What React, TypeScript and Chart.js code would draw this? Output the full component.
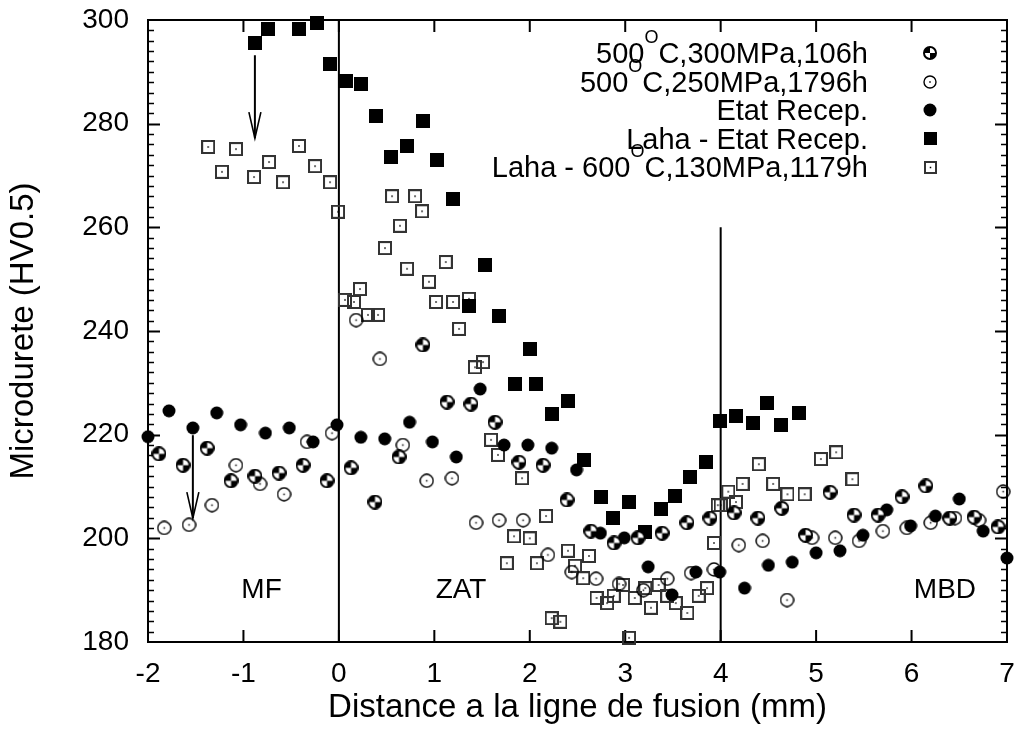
import React, { useEffect, useRef } from 'react';
import { Chart, registerables } from 'chart.js';
Chart.register(...registerables);

const FONT = '"Liberation Sans", Arial, Helvetica, sans-serif';

// ---- Data (mm, HV0.5) ----
const s300X = [-1.885, -1.633, -1.38, -1.13, -0.879, -0.627, -0.376, -0.124, 0.127, 0.378, 0.63, 0.88, 1.133, 1.384, 1.636, 1.887, 2.139, 2.39, 2.64, 2.883, 3.134, 3.386, 3.647, 3.888, 4.14, 4.39, 4.64, 4.89, 5.146, 5.397, 5.65, 5.9, 6.15, 6.4, 6.655, 6.906];
const s300Y = [216.3, 214.1, 217.4, 211.1, 212, 212.6, 214.1, 211.1, 213.6, 207, 215.7, 237.3, 226.3, 225.9, 222.4, 214.7, 214.1, 207.4, 201.4, 199.1, 200.1, 201, 203, 203.9, 204.9, 203.9, 205.8, 200.6, 208.9, 204.5, 204.5, 208, 210.1, 203.9, 204.1, 202.2];

const s250X = [-1.83, -1.57, -1.33, -1.078, -0.826, -0.575, -0.334, -0.072, 0.18, 0.43, 0.67, 0.92, 1.185, 1.437, 1.678, 1.93, 2.19, 2.44, 2.694, 2.935, 3.19, 3.44, 3.69, 3.93, 4.19, 4.44, 4.695, 4.957, 5.2, 5.45, 5.7, 5.95, 6.2, 6.455, 6.707, 6.96];
const s250Y = [202, 202.6, 206.4, 214.1, 210.5, 208.5, 218.6, 220.3, 242.1, 234.6, 218, 211.1, 211.6, 203, 203.5, 203.5, 196.8, 193.5, 192.2, 191.2, 190, 192.2, 193.3, 194, 198.7, 199.5, 188.1, 200.1, 200.1, 199.5, 201.4, 202, 203, 203.9, 203.5, 209];

const recX = [-2.0, -1.78, -1.53, -1.28, -1.03, -0.77, -0.52, -0.27, -0.02, 0.23, 0.48, 0.74, 0.98, 1.23, 1.48, 1.73, 1.98, 2.23, 2.49, 2.74, 2.99, 3.24, 3.49, 3.74, 3.99, 4.25, 4.5, 4.75, 5.0, 5.25, 5.49, 5.74, 5.99, 6.25, 6.5, 6.75, 7.0];
const recY = [219.6, 224.6, 221.3, 224.2, 221.9, 220.3, 221.3, 218.6, 221.9, 219.5, 219.2, 222.4, 218.6, 215.7, 228.8, 218, 218, 217.4, 213.2, 201, 200.1, 194.5, 189.1, 193.5, 193.5, 190.4, 194.8, 195.4, 197.2, 197.6, 200.6, 205.5, 202.4, 204.3, 207.6, 201.4, 196.2];

const lahaRecX = [-0.88, -0.74, -0.42, -0.23, -0.09, 0.07, 0.23, 0.39, 0.55, 0.71, 0.88, 1.03, 1.2, 1.36, 1.53, 1.68, 1.84, 2.0, 2.07, 2.23, 2.4, 2.57, 2.75, 2.87, 3.04, 3.21, 3.37, 3.52, 3.68, 3.85, 3.99, 4.16, 4.34, 4.49, 4.63, 4.82];
const lahaRecY = [295.6, 298.2, 298.3, 299.4, 291.5, 288.3, 287.6, 281.4, 273.6, 275.6, 280.5, 272.9, 265.4, 244.8, 252.7, 242.9, 229.8, 236.5, 229.8, 224.0, 226.5, 215.2, 207.9, 204.0, 207.0, 201.2, 205.6, 208.1, 211.9, 214.8, 222.6, 223.6, 222.3, 226.1, 221.9, 224.2];

const laha600X = [-1.37, -1.225, -1.078, -0.889, -0.732, -0.585, -0.418, -0.25, -0.093, -0.009, 0.064, 0.158, 0.221, 0.305, 0.41, 0.483, 0.557, 0.64, 0.714, 0.798, 0.871, 0.944, 1.018, 1.12, 1.196, 1.259, 1.363, 1.426, 1.51, 1.594, 1.667, 1.76, 1.835, 1.919, 2.0, 2.075, 2.17, 2.23, 2.32, 2.4, 2.474, 2.56, 2.62, 2.7, 2.81, 2.88, 2.977, 3.04, 3.1, 3.21, 3.27, 3.35, 3.44, 3.53, 3.65, 3.77, 3.857, 3.93, 3.97, 4.0, 4.08, 4.16, 4.23, 4.4, 4.55, 4.7, 4.88, 5.05, 5.21, 5.38];
const laha600Y = [275.5, 270.7, 275.1, 269.7, 272.6, 268.7, 275.7, 271.8, 268.7, 263.0, 246, 245.6, 248.1, 243.1, 243.1, 256, 266.0, 260.3, 252, 266.0, 263.1, 249.5, 245.6, 253.3, 245.6, 240.4, 246.2, 233, 234, 219, 216.1, 195.2, 200.4, 211.6, 200, 195.2, 204.3, 184.6, 183.9, 197.6, 194.7, 192.3, 196.6, 188.5, 187.5, 188.9, 191, 180.8, 188.5, 190.4, 186.6, 191, 188.9, 187.5, 185.6, 188.9, 190.4, 199.1, 206.4, 206.4, 209, 207, 210.5, 214.3, 210.5, 208.5, 208.5, 215.3, 216.6, 211.4];

const seriesNames = [
  ['500', 'O', 'C,300MPa,106h'],
  ['500', 'O', 'C,250MPa,1796h'],
  ['Etat Recep.', '', ''],
  ['Laha - Etat Recep.', '', ''],
  ['Laha - 600', 'O', 'C,130MPa,1179h'],
];

const zoneLabels = ['MF', 'ZAT', 'MBD'];
const zoneX = [-0.81, 1.28, 6.35];
const zoneY = [190, 190, 190];

const xTitle = 'Distance a la ligne de fusion (mm)';
const yTitle = 'Microdurete (HV0.5)';

// ---- Markers ----
function mk(size: number, draw: (c: CanvasRenderingContext2D, s: number) => void) {
  const c = document.createElement('canvas');
  c.width = size; c.height = size;
  const ctx = c.getContext('2d')!;
  draw(ctx, size);
  return c;
}
function quartered(size: number) {
  return mk(size, (c, s) => {
    const r = s / 2 - 1, m = s / 2;
    c.beginPath(); c.arc(m, m, r, 0, Math.PI * 2); c.fillStyle = '#fff'; c.fill();
    c.fillStyle = '#000';
    c.beginPath(); c.moveTo(m, m); c.arc(m, m, r, Math.PI, Math.PI * 1.5); c.closePath(); c.fill();
    c.beginPath(); c.moveTo(m, m); c.arc(m, m, r, 0, Math.PI * 0.5); c.closePath(); c.fill();
    c.beginPath(); c.arc(m, m, r, 0, Math.PI * 2); c.lineWidth = 2; c.strokeStyle = '#000'; c.stroke();
  });
}
function openCircle(size: number) {
  return mk(size, (c, s) => {
    const m = s / 2;
    c.beginPath(); c.arc(m, m, s / 2 - 1, 0, Math.PI * 2); c.lineWidth = 1.4; c.strokeStyle = '#000'; c.stroke();
    c.fillStyle = '#000'; c.fillRect(m - 0.75, m - 0.75, 1.5, 1.5);
  });
}
function filledCircle(size: number) {
  return mk(size, (c, s) => {
    const m = s / 2;
    c.beginPath(); c.arc(m, m, s / 2 - 0.5, 0, Math.PI * 2); c.fillStyle = '#000'; c.fill();
  });
}
function filledSquare(size: number) {
  return mk(size, (c, s) => { c.fillStyle = '#000'; c.fillRect(0, 0, s, s); });
}
function openSquare(size: number) {
  return mk(size, (c, s) => {
    c.lineWidth = 2; c.strokeStyle = '#333'; c.strokeRect(1, 1, s - 2, s - 2);
    c.fillStyle = '#000'; c.fillRect(s / 2 - 0.75, s / 2 - 0.75, 1.5, 1.5);
  });
}

function pts(xs: number[], ys: number[]) {
  return xs.map((x, i) => ({ x, y: ys[i] }));
}

export default function App() {
  const ref = useRef<HTMLCanvasElement>(null);
  useEffect(() => {
    const markers = [quartered(15), openCircle(15), filledCircle(14), filledSquare(14), openSquare(14)];
    const legMarkers = [quartered(14), openCircle(14), filledCircle(14), filledSquare(13), openSquare(13)];
    const decor = {
      id: 'decor',
      beforeDatasetsDraw(chart: any) {
        const { ctx, chartArea: a, scales: { x, y } } = chart;
        ctx.save();
        ctx.strokeStyle = '#000';
        ctx.lineWidth = 2;
        ctx.strokeRect(a.left, a.top, a.right - a.left, a.bottom - a.top);
        for (let v = 182; v < 300; v += 2) {
          const py = Math.round(y.getPixelForValue(v)) + 0.5;
          const major = v % 20 === 0;
          const len = major ? 12 : 6;
          ctx.lineWidth = major ? 2 : 1.5;
          ctx.beginPath();
          ctx.moveTo(a.left, py); ctx.lineTo(a.left + len, py);
          ctx.moveTo(a.right, py); ctx.lineTo(a.right - len, py);
          ctx.stroke();
        }
        ctx.lineWidth = 2;
        for (let v = -1; v <= 6; v++) {
          const px = x.getPixelForValue(v);
          ctx.beginPath();
          ctx.moveTo(px, a.bottom); ctx.lineTo(px, a.bottom - 12);
          ctx.moveTo(px, a.top); ctx.lineTo(px, a.top + 12);
          ctx.stroke();
        }
        // zone separators
        ctx.lineWidth = 2;
        ctx.beginPath();
        ctx.moveTo(x.getPixelForValue(0), y.getPixelForValue(300));
        ctx.lineTo(x.getPixelForValue(0), y.getPixelForValue(180));
        ctx.moveTo(x.getPixelForValue(4), y.getPixelForValue(260));
        ctx.lineTo(x.getPixelForValue(4), y.getPixelForValue(180));
        ctx.stroke();
        // arrows
        const arrow = (xv: number, y0: number, y1: number) => {
          const px = x.getPixelForValue(xv);
          const p0 = y.getPixelForValue(y0), p1 = y.getPixelForValue(y1);
          ctx.lineWidth = 2;
          ctx.beginPath(); ctx.moveTo(px, p0); ctx.lineTo(px, p1); ctx.stroke();
          ctx.lineWidth = 1.6;
          ctx.beginPath();
          ctx.moveTo(px - 6, p1 - 26); ctx.lineTo(px, p1); ctx.lineTo(px + 6, p1 - 26);
          ctx.stroke();
        };
        arrow(-0.88, 293.2, 277.2);
        arrow(-1.53, 219.9, 203.9);
        // zone labels
        ctx.fillStyle = '#000';
        ctx.font = `28px ${FONT}`;
        ctx.textAlign = 'center';
        ctx.textBaseline = 'middle';
        zoneLabels.forEach((t, i) => ctx.fillText(t, x.getPixelForValue(zoneX[i]), y.getPixelForValue(zoneY[i])));
        ctx.restore();
      },
      afterDatasetsDraw(chart: any) {
        const { ctx, chartArea: a } = chart;
        ctx.save();
        ctx.fillStyle = '#000';
        // legend
        const rowsY = [53, 81.5, 110, 138.5, 167];
        const textRight = 868, markX = 930;
        const big = `29px ${FONT}`, sup = `18px ${FONT}`;
        seriesNames.forEach((parts, i) => {
          const base = rowsY[i] + 10;
          ctx.font = big;
          const w0 = ctx.measureText(parts[0]).width;
          const w2 = ctx.measureText(parts[2]).width;
          ctx.font = sup;
          const w1 = parts[1] ? ctx.measureText(parts[1]).width : 0;
          let cx = textRight - (w0 + w1 + w2);
          ctx.textAlign = 'left';
          ctx.textBaseline = 'alphabetic';
          ctx.font = big;
          ctx.fillText(parts[0], cx, base); cx += w0;
          if (parts[1]) {
            ctx.font = sup;
            ctx.fillText(parts[1], cx, base - 20); cx += w1;
          }
          ctx.font = big;
          ctx.fillText(parts[2], cx, base);
          const m = legMarkers[i];
          ctx.drawImage(m, Math.round(markX - m.width / 2), Math.round(rowsY[i] - m.height / 2));
        });
        // axis titles
        ctx.font = `33px ${FONT}`;
        ctx.textAlign = 'center';
        ctx.textBaseline = 'middle';
        ctx.fillText(xTitle, (a.left + a.right) / 2, 708);
        ctx.translate(24, (a.top + a.bottom) / 2);
        ctx.rotate(-Math.PI / 2);
        ctx.fillText(yTitle, 0, 0);
        ctx.restore();
      },
    };

    const mkDs = (label: string, xs: number[], ys: number[], i: number) => ({
      label, data: pts(xs, ys), pointStyle: markers[i], pointRadius: 7, showLine: false, clip: false as any,
    });

    const chart = new Chart(ref.current!, {
      type: 'scatter',
      data: {
        datasets: [
          mkDs('500C,300MPa,106h', s300X, s300Y, 0),
          mkDs('500C,250MPa,1796h', s250X, s250Y, 1),
          mkDs('Etat Recep.', recX, recY, 2),
          mkDs('Laha - Etat Recep.', lahaRecX, lahaRecY, 3),
          mkDs('Laha - 600C,130MPa,1179h', laha600X, laha600Y, 4),
        ],
      },
      options: {
        animation: false,
        responsive: false,
        maintainAspectRatio: false,
        events: [],
        layout: { padding: { top: 20, right: 17, left: 0, bottom: 0 } },
        plugins: { legend: { display: false }, tooltip: { enabled: false } },
        scales: {
          x: {
            type: 'linear', min: -2, max: 7, position: 'bottom',
            grid: { display: false, drawTicks: false }, border: { display: false },
            ticks: { stepSize: 1, color: '#000', font: { family: FONT, size: 28 }, padding: 15, maxRotation: 0 },
            afterFit: (s: any) => { s.height = 91; s.paddingLeft = 0; s.paddingRight = 0; },
          },
          y: {
            type: 'linear', min: 180, max: 300,
            grid: { display: false, drawTicks: false }, border: { display: false },
            ticks: { stepSize: 20, color: '#000', font: { family: FONT, size: 28 }, padding: 19 },
            afterFit: (s: any) => { s.width = 148; s.paddingTop = 0; s.paddingBottom = 0; },
          },
        },
      },
      plugins: [decor],
    });
    return () => chart.destroy();
  }, []);
  return (
    <div style={{ position: 'fixed', left: 0, top: 0, width: 1024, height: 733, background: '#fff' }}>
      <canvas ref={ref} width={1024} height={733} style={{ display: 'block' }} />
    </div>
  );
}
